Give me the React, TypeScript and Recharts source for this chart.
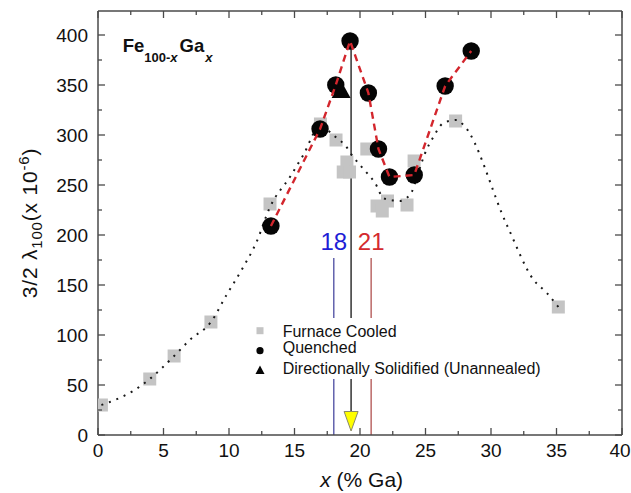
import React from 'react';
import { ScatterChart, Scatter, XAxis, YAxis, ReferenceLine, Legend } from 'recharts';

// ---------- data ----------
const xTicks = [0, 2.5, 5, 7.5, 10, 12.5, 15, 17.5, 20, 22.5, 25, 27.5, 30, 32.5, 35, 37.5, 40];
const yTicks = [0, 25, 50, 75, 100, 125, 150, 175, 200, 225, 250, 275, 300, 325, 350, 375, 400];

const furnaceCooled = [
  { x: 0.26, y: 30 }, { x: 3.95, y: 56 }, { x: 5.81, y: 79 }, { x: 8.62, y: 113 },
  { x: 13.13, y: 231 }, { x: 16.98, y: 311 }, { x: 18.17, y: 295 }, { x: 19.0, y: 273 },
  { x: 18.72, y: 263 }, { x: 19.2, y: 263 }, { x: 20.52, y: 286 }, { x: 21.3, y: 229 },
  { x: 21.7, y: 224 }, { x: 22.1, y: 234 }, { x: 23.59, y: 230 }, { x: 24.13, y: 274 },
  { x: 27.3, y: 314 }, { x: 35.14, y: 128 },
];

const quenched = [
  { x: 13.2, y: 209 }, { x: 16.95, y: 306 }, { x: 18.15, y: 350 }, { x: 19.24, y: 394 },
  { x: 20.64, y: 342 }, { x: 21.41, y: 286 }, { x: 22.25, y: 258 }, { x: 24.14, y: 260 },
  { x: 26.5, y: 349 }, { x: 28.49, y: 384 },
];

const directionallySolidified = [{ x: 18.56, y: 343 }];

// dotted guide through furnace-cooled data
const furnaceTrend = [
  { x: 0.26, y: 30 }, { x: 0.9, y: 33 }, { x: 2.67, y: 44 }, { x: 3.95, y: 56 },
  { x: 5.81, y: 79 }, { x: 7.0, y: 95 }, { x: 8.62, y: 113 }, { x: 9.81, y: 140 },
  { x: 10.96, y: 165 }, { x: 12.1, y: 193 }, { x: 13.13, y: 228 }, { x: 14.65, y: 258 },
  { x: 15.67, y: 280 }, { x: 17.0, y: 310 }, { x: 17.7, y: 303 }, { x: 18.22, y: 297 },
  { x: 18.85, y: 290 }, { x: 19.49, y: 278 }, { x: 20.6, y: 261 }, { x: 21.15, y: 252 },
  { x: 21.78, y: 237 }, { x: 22.29, y: 235 }, { x: 23.06, y: 234 }, { x: 23.57, y: 237 },
  { x: 23.95, y: 243 }, { x: 24.2, y: 252 }, { x: 24.97, y: 282 }, { x: 25.6, y: 298 },
  { x: 26.37, y: 312 }, { x: 27.39, y: 315 }, { x: 27.9, y: 310 }, { x: 31.21, y: 210 },
  { x: 33.26, y: 155 }, { x: 34.27, y: 142 }, { x: 35.14, y: 128 },
];

const blueMark = { x: 18, top: 177, label: '18' };
const redMark = { x: 20.85, top: 177, label: '21' };
const peakMark = { x: 19.32, bottom: 23, top: 394 };
const arrowMarker = [{ x: 19.32, y: 0 }];

const legendLabels = ['Furnace Cooled', 'Quenched', 'Directionally Solidified (Unannealed)'];

// ---------- styles ----------
const FONT = '"Liberation Sans", Arial, Helvetica, sans-serif';
const AXIS = '#4a4a4a';
const CHART_W = 631;

const BottomTick = (p: any) => {
  const { x, y, payload } = p;
  const major = payload.value % 5 === 0;
  const labelX = Math.min(x, CHART_W - 11);
  return (
    <g>
      <line x1={x} x2={x} y1={y} y2={y - (major ? 7 : 4)} stroke={AXIS} strokeWidth={1.3} />
      {major && (
        <text x={labelX} y={y + 22} textAnchor="middle" fontSize={19} fill="#111" fontFamily={FONT}>
          {payload.value}
        </text>
      )}
    </g>
  );
};

const TopTick = (p: any) => {
  const { x, y, payload } = p;
  const major = payload.value % 5 === 0;
  return <line x1={x} x2={x} y1={y} y2={y + (major ? 7 : 4)} stroke={AXIS} strokeWidth={1.3} />;
};

const LeftTick = (p: any) => {
  const { x, y, payload } = p;
  const major = payload.value % 50 === 0;
  return (
    <g>
      <line x1={x} x2={x + (major ? 7 : 4)} y1={y} y2={y} stroke={AXIS} strokeWidth={1.3} />
      {major && (
        <text x={x - 10} y={y} dy="0.35em" textAnchor="end" fontSize={19} fill="#111" fontFamily={FONT}>
          {payload.value}
        </text>
      )}
    </g>
  );
};

const RightTick = (p: any) => {
  const { x, y, payload } = p;
  const major = payload.value % 50 === 0;
  return <line x1={x} x2={x - (major ? 7 : 4)} y1={y} y2={y} stroke={AXIS} strokeWidth={1.3} />;
};

const SquareShape = (p: any) => (
  <rect x={p.cx - 6.5} y={p.cy - 6.5} width={13} height={13} fill="#c4c4c4" />
);
const CircleShape = (p: any) => <circle cx={p.cx} cy={p.cy} r={8.7} fill="#050505" />;
const TriangleShape = (p: any) => (
  <polygon
    points={`${p.cx},${p.cy - 11} ${p.cx + 9.5},${p.cy + 6} ${p.cx - 9.5},${p.cy + 6}`}
    fill="#050505"
  />
);
const ArrowShape = (p: any) => (
  <polygon
    points={`${p.cx - 7},${p.cy - 23.5} ${p.cx + 7},${p.cy - 23.5} ${p.cx},${p.cy - 4}`}
    fill="#ffff00"
    stroke="#8a8a6a"
    strokeWidth={1}
  />
);
const NoShape = () => <g />;

const renderLegend = () => (
  <svg width={305} height={61} style={{ display: 'block' }}>
    <rect x={0} y={0} width={305} height={61} fill="#ffffff" />
    <rect x={6.5} y={9.2} width={7} height={7} fill="#c4c4c4" />
    <circle cx={10} cy={32.7} r={3.6} fill="#050505" />
    <polygon points="10,47.5 14.5,56 5.5,56" fill="#050505" />
    <text x={32.7} y={18.7} fontSize={16} fill="#111" fontFamily={FONT}>{legendLabels[0]}</text>
    <text x={32.7} y={35} fontSize={16} fill="#111" fontFamily={FONT}>{legendLabels[1]}</text>
    <text x={32.7} y={56} fontSize={16} fill="#111" fontFamily={FONT}>{legendLabels[2]}</text>
  </svg>
);

export default function App() {
  return (
    <div
      style={{
        position: 'absolute',
        left: 0,
        top: 0,
        width: 631,
        height: 493,
        fontFamily: FONT,
        background: '#fff',
      }}
    >
      <ScatterChart width={CHART_W} height={493} margin={{ top: 10, right: 8, bottom: 57, left: 97 }}>
        <XAxis
          type="number"
          dataKey="x"
          domain={[0, 40]}
          ticks={xTicks}
          interval={0}
          allowDataOverflow
          height={1}
          tickSize={0}
          tickMargin={0}
          tickLine={false}
          axisLine={{ stroke: AXIS, strokeWidth: 1.5 }}
          tick={(p: any) => <BottomTick {...p} />}
        />
        <XAxis
          xAxisId="top"
          orientation="top"
          type="number"
          dataKey="x"
          domain={[0, 40]}
          ticks={xTicks}
          interval={0}
          allowDataOverflow
          height={1}
          tickSize={0}
          tickMargin={0}
          tickLine={false}
          axisLine={{ stroke: AXIS, strokeWidth: 1.5 }}
          tick={(p: any) => <TopTick {...p} />}
        />
        <YAxis
          type="number"
          dataKey="y"
          domain={[0, 424]}
          ticks={yTicks}
          interval={0}
          allowDataOverflow
          width={1}
          tickSize={0}
          tickMargin={0}
          tickLine={false}
          axisLine={{ stroke: AXIS, strokeWidth: 1.5 }}
          tick={(p: any) => <LeftTick {...p} />}
        />
        <YAxis
          yAxisId="right"
          orientation="right"
          type="number"
          dataKey="y"
          domain={[0, 424]}
          ticks={yTicks}
          interval={0}
          allowDataOverflow
          width={1}
          tickSize={0}
          tickMargin={0}
          tickLine={false}
          axisLine={{ stroke: AXIS, strokeWidth: 1.5 }}
          tick={(p: any) => <RightTick {...p} />}
        />

        <ReferenceLine
          segment={[{ x: blueMark.x, y: 0 }, { x: blueMark.x, y: blueMark.top }]}
          stroke="#4a4aa0"
          strokeWidth={1.3}
          label={{ value: blueMark.label, position: 'top', fill: '#1e1ed6', fontSize: 24, offset: 8 }}
        />
        <ReferenceLine
          segment={[{ x: redMark.x, y: 0 }, { x: redMark.x, y: redMark.top }]}
          stroke="#b0504f"
          strokeWidth={1.3}
          label={{ value: redMark.label, position: 'top', fill: '#d42a2e', fontSize: 24, offset: 8 }}
        />
        <ReferenceLine
          segment={[{ x: peakMark.x, y: peakMark.bottom }, { x: peakMark.x, y: peakMark.top }]}
          stroke="#333"
          strokeWidth={1.5}
        />

        <Scatter name="Furnace Cooled" data={furnaceCooled} shape={SquareShape} isAnimationActive={false} />
        <Scatter
          name="FC trend"
          data={furnaceTrend}
          shape={NoShape}
          line={{ stroke: '#1a1a1a', strokeWidth: 2, strokeDasharray: '2 6' }}
          lineType="joint"
          lineJointType="monotoneX"
          isAnimationActive={false}
          legendType="none"
        />
        <Scatter name="Quenched" data={quenched} shape={CircleShape} isAnimationActive={false} />
        <Scatter
          name="Directionally Solidified (Unannealed)"
          data={directionallySolidified}
          shape={TriangleShape}
          isAnimationActive={false}
        />
        <Scatter
          name="Quenched trend"
          data={quenched}
          shape={NoShape}
          line={{ stroke: '#d3262d', strokeWidth: 2.4, strokeDasharray: '7 5' }}
          lineType="joint"
          isAnimationActive={false}
          legendType="none"
        />
        <Scatter name="marker" data={arrowMarker} shape={ArrowShape} isAnimationActive={false} legendType="none" />

        <Legend
          layout="vertical"
          align="center"
          verticalAlign="middle"
          content={renderLegend}
          wrapperStyle={{ position: 'absolute', left: 250, top: 318, width: 305, height: 61 }}
        />
      </ScatterChart>

      <svg
        width={631}
        height={493}
        style={{ position: 'absolute', left: 0, top: 0, pointerEvents: 'none' }}
      >
        <text x={122.7} y={51.7} fontSize={18.5} fontWeight="bold" fill="#111" fontFamily={FONT}>
          Fe
          <tspan dy={10} fontSize={13}>100-</tspan>
          <tspan fontSize={13} fontStyle="italic">x</tspan>
          <tspan dy={-10} dx={2}>Ga</tspan>
          <tspan dy={10} dx={1} fontSize={13} fontStyle="italic">x</tspan>
        </text>
        <text
          x={37}
          y={223}
          transform="rotate(-90, 37, 223)"
          textAnchor="middle"
          fontSize={21}
          letterSpacing={0.8}
          fill="#111"
          fontFamily={FONT}
        >
          3/2 λ
          <tspan dy={5} fontSize={15}>100</tspan>
          <tspan dy={-5}>(x 10</tspan>
          <tspan dy={-8} fontSize={15}>-6</tspan>
          <tspan dy={8}>)</tspan>
        </text>
        <text x={361.7} y={487} textAnchor="middle" fontSize={21} fill="#111" fontFamily={FONT}>
          <tspan fontStyle="italic">x</tspan>
          {' (% Ga)'}
        </text>
      </svg>
    </div>
  );
}
